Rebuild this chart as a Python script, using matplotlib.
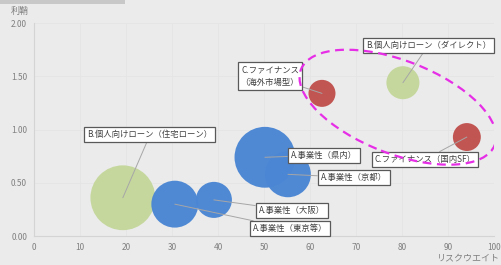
import matplotlib
matplotlib.use("Agg")
import matplotlib.pyplot as plt
from matplotlib.patches import Ellipse, Rectangle
from matplotlib.transforms import ScaledTranslation

plt.rcParams['font.family'] = ['Noto Sans CJK JP', 'DejaVu Sans']

# data
names = ['B.個人向けローン（住宅ローン）', 'A.事業性（東京等）', 'A.事業性（大阪）',
         'A.事業性（県内）', 'A.事業性（京都）', 'C.ファイナンス\n（海外市場型）',
         'B.個人向けローン（ダイレクト）', 'C.ファイナンス（国内SF）']
risk_weight = [19.3, 30.6, 39.1, 50.2, 55.2, 62.6, 80.2, 94.1]
spread = [0.36, 0.30, 0.34, 0.74, 0.58, 1.34, 1.44, 0.93]
volume = [42, 22, 13, 37, 21, 7.3, 10.9, 7.8]
colors = ['#c4d79b', '#4a86d4', '#4a86d4', '#4a86d4', '#4a86d4',
          '#c0504d', '#c4d79b', '#c0504d']
# label box positions (data units)
label_x = [25.2, 55.7, 56.0, 63.0, 69.5, 51.3, 85.7, 85.0]
label_y = [0.95, 0.07, 0.24, 0.76, 0.55, 1.50, 1.79, 0.72]

bg = '#ebebeb'
fig = plt.figure(figsize=(5.01, 2.65), dpi=100, facecolor=bg)
ax = fig.add_axes([0.068, 0.109, 0.918, 0.804], facecolor=bg)

ax.scatter(risk_weight, spread, s=[v * 51.84 for v in volume], c=colors,
           edgecolors='none', alpha=0.97, zorder=3)

for i, name in enumerate(names):
    ax.annotate(name, xy=(risk_weight[i], spread[i]), xytext=(label_x[i], label_y[i]),
                ha='center', va='center', fontsize=6, color='#404040',
                linespacing=1.6, zorder=5,
                bbox=dict(boxstyle='square,pad=0.35', fc='white', ec='#595959', lw=0.9),
                arrowprops=dict(arrowstyle='-', color='#a6a6a6', lw=0.7,
                                shrinkA=0, shrinkB=0))

# dashed highlight ellipse (sized in inches, centred in data units)
tr = fig.dpi_scale_trans + ScaledTranslation(79.1, 1.21, ax.transData)
ax.add_patch(Ellipse((0, 0), 2.08, 0.93, angle=-21.3, transform=tr, fill=False,
                     ec='#e62ee6', lw=1.6, ls=(0, (4, 2.5)), zorder=6))

ax.set_xlim(0, 100)
ax.set_ylim(0, 2.0)
ax.set_xticks(range(0, 101, 10))
ax.set_yticks([0, 0.5, 1.0, 1.5, 2.0])
ax.set_yticklabels(['0.00', '0.50', '1.00', '1.50', '2.00'])
ax.tick_params(labelsize=6, colors='#808080', length=0, pad=5)
ax.grid(True, color='#e4e4e4', lw=0.6)
ax.set_axisbelow(True)
for side in ['top', 'right']:
    ax.spines[side].set_visible(False)
for side in ['left', 'bottom']:
    ax.spines[side].set_color('#d4d4d4')
    ax.spines[side].set_linewidth(0.8)

fig.text(0.022, 0.955, '利鞘', fontsize=6.5, color='#7f7f7f', va='center')
fig.text(0.997, 0.028, 'リスクウエイト', fontsize=6.5, color='#7f7f7f',
         ha='right', va='center')

# grey shadow strip at top-left
fig.add_artist(Rectangle((0, 0.985), 0.25, 0.015, transform=fig.transFigure,
                         fc='#c8c8c8', ec='none'))

fig.savefig('out.png', dpi=100, facecolor=bg)
